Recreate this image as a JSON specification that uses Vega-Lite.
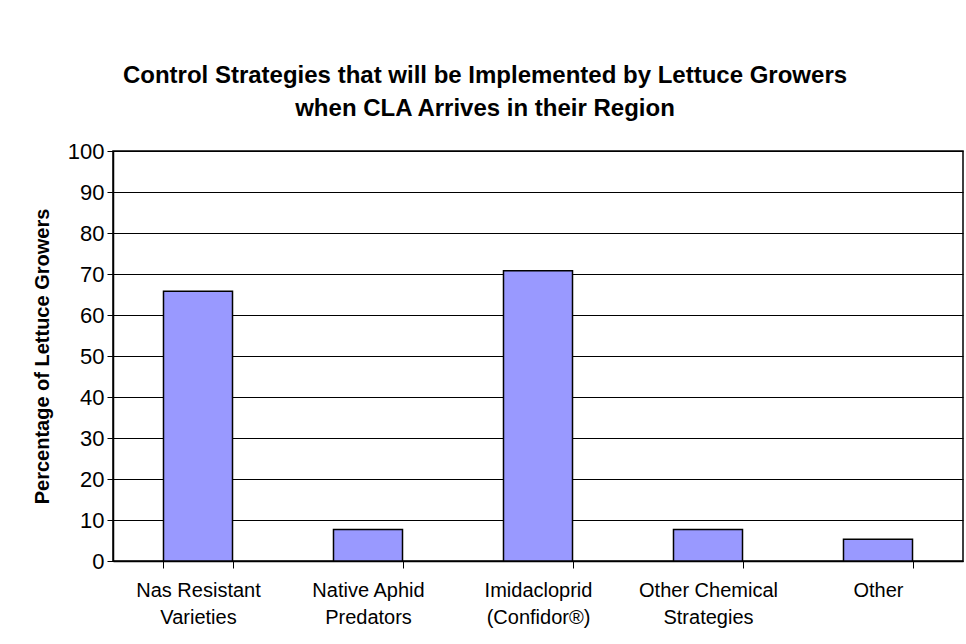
{
  "$schema": "https://vega.github.io/schema/vega-lite/v6.json",
  "width": 850,
  "height": 410,
  "autosize": "none",
  "padding": {"left": 113, "top": 151, "right": 3, "bottom": 83},
  "background": "white",
  "title": {
    "text": ["Control Strategies that will be Implemented by Lettuce Growers", "when CLA Arrives in their Region"],
    "anchor": "middle",
    "dx": -53,
    "offset": 19,
    "font": "Liberation Sans",
    "fontSize": 24,
    "fontWeight": "bold",
    "lineHeight": 33,
    "color": "black"
  },
  "data": {
    "values": [
      {"strategy": "Nas Resistant|Varieties", "percent": 65.8},
      {"strategy": "Native Aphid|Predators", "percent": 7.7},
      {"strategy": "Imidacloprid|(Confidor®)", "percent": 70.8},
      {"strategy": "Other Chemical|Strategies", "percent": 7.7},
      {"strategy": "Other", "percent": 5.3}
    ]
  },
  "mark": {"type": "bar", "color": "#9999FF", "stroke": "black", "strokeWidth": 1.5},
  "encoding": {
    "x": {
      "field": "strategy",
      "type": "nominal",
      "sort": null,
      "scale": {"paddingInner": 0.594, "paddingOuter": 0.297},
      "axis": {
        "title": null,
        "labelAngle": 0,
        "labelExpr": "split(datum.label, '|')",
        "labelFont": "Liberation Sans",
        "labelFontSize": 20,
        "labelColor": "black",
        "labelLineHeight": 27,
        "labelPadding": 12,
        "labelBaseline": "top",
        "tickBand": "extent",
        "tickSize": 7,
        "tickColor": "black",
        "tickWidth": 1,
        "domainColor": "black",
        "domainWidth": 1.5,
        "grid": false
      }
    },
    "y": {
      "field": "percent",
      "type": "quantitative",
      "scale": {"domain": [0, 100], "nice": false},
      "axis": {
        "title": "Percentage of Lettuce Growers",
        "titleFont": "Liberation Sans",
        "titleFontSize": 20,
        "titleFontWeight": "bold",
        "titleColor": "black",
        "titleAngle": -90,
        "titleX": -71,
        "titleY": 205,
        "titleAlign": "center",
        "titleBaseline": "middle",
        "values": [0, 10, 20, 30, 40, 50, 60, 70, 80, 90, 100],
        "labelFont": "Liberation Sans",
        "labelFontSize": 22,
        "labelColor": "black",
        "labelPadding": 3,
        "tickSize": 6,
        "tickColor": "black",
        "tickWidth": 1,
        "domainColor": "black",
        "domainWidth": 1.5,
        "grid": true,
        "gridColor": "black",
        "gridWidth": 1,
        "gridOpacity": 1
      }
    }
  },
  "config": {
    "view": {"stroke": "black", "strokeWidth": 1.5},
    "axis": {"labelFlush": false}
  }
}
